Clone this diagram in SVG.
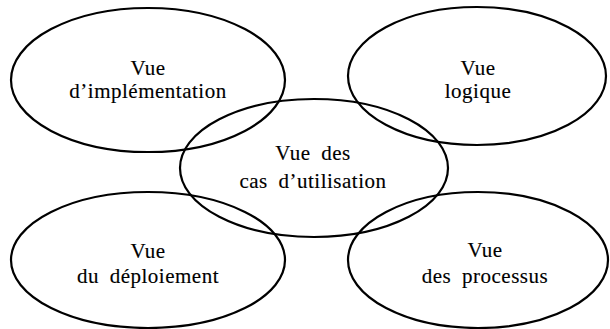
<svg xmlns="http://www.w3.org/2000/svg" width="610" height="329" viewBox="0 0 610 329">
<style>
.e{fill:none;stroke:#000;stroke-width:2.2}
.t{font-family:"Liberation Serif","Times New Roman",serif;font-size:21px;fill:#000;text-anchor:middle;letter-spacing:0.5px;word-spacing:5px;stroke:#000;stroke-width:0.15}
</style>
<rect width="610" height="329" fill="#fff"/>
<g id="impl"><ellipse class="e" cx="148" cy="80" rx="137" ry="72"/><text class="t" x="148" y="75">Vue</text><text class="t" x="148" y="98">d’implémentation</text></g>
<g id="logique"><ellipse class="e" cx="477" cy="76" rx="129" ry="69"/><text class="t" x="478" y="75">Vue</text><text class="t" x="478" y="98">logique</text></g>
<g id="deploiement"><ellipse class="e" cx="148" cy="260" rx="137" ry="68"/><text class="t" x="148" y="258">Vue</text><text class="t" x="148" y="283">du déploiement</text></g>
<g id="processus"><ellipse class="e" cx="478" cy="260" rx="130" ry="68"/><text class="t" x="485" y="257">Vue</text><text class="t" x="485" y="283">des processus</text></g>
<g id="cas"><ellipse class="e" cx="314" cy="168" rx="134" ry="69"/><text class="t" x="313" y="160">Vue des</text><text class="t" x="313" y="188">cas d’utilisation</text></g>
<g id="connectors"></g>
</svg>
